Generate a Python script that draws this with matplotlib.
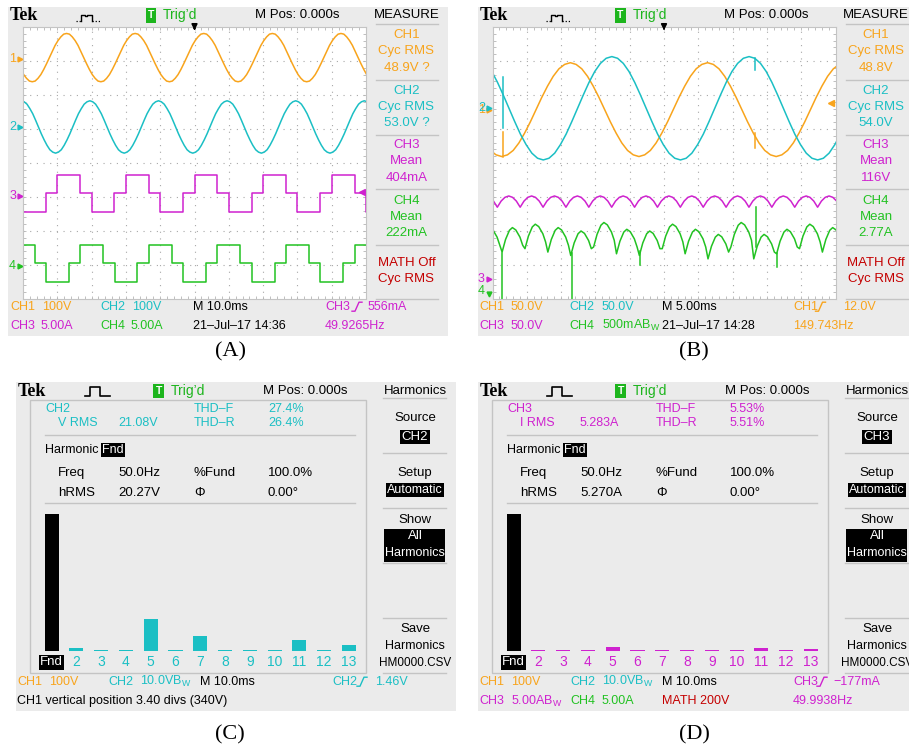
import numpy as np
import matplotlib.pyplot as plt
from matplotlib.patches import Rectangle

W, H = 909, 750
plt.rcParams['font.family'] = ['Liberation Sans', 'DejaVu Sans']

ORANGE = '#F8A41C'
CYAN = '#1BBFC4'
MAGENTA = '#CF22CF'
GREEN = '#22C222'
RED = '#C40000'
TRIG = '#1DB51D'
PANEL = '#EBEBEB'
RULE = '#C4C4C4'

# ---- (A) 10 ms/div; trace values in divisions, one 20 ms period each ----
A_PERIOD = 2.0
A_CH1_CYCLE = [3.81, 3.79, 3.71, 3.60, 3.46, 3.28, 3.10, 2.92, 2.75, 2.60, 2.49, 2.41,
               2.39, 2.41, 2.49, 2.60, 2.75, 2.92, 3.10, 3.28, 3.46, 3.60, 3.71, 3.79]
A_CH1_START = -0.73
A_CH2_CYCLE = [1.83, 1.80, 1.73, 1.60, 1.45, 1.26, 1.06, 0.86, 0.68, 0.52, 0.39, 0.32,
               0.29, 0.32, 0.39, 0.52, 0.68, 0.86, 1.06, 1.26, 1.45, 1.60, 1.73, 1.80]
A_CH2_START = -0.05
A_CH3_STEPS = [-0.35, -0.35, -0.89, -1.43, -1.43, -0.89]
A_CH3_START = -1.00
A_CH4_STEPS = [-2.41, -2.41, -2.95, -3.49, -3.49, -2.95]
A_CH4_START = -0.33

# ---- (B) 5 ms/div ----
B_PERIOD = 4.0
B_CH1_CYCLE = [2.95, 2.90, 2.77, 2.55, 2.26, 1.93, 1.57, 1.21, 0.88, 0.59, 0.37, 0.24,
               0.19, 0.24, 0.37, 0.59, 0.88, 1.21, 1.57, 1.93, 2.26, 2.55, 2.77, 2.90]
B_CH1_START = -1.73
B_CH2_CYCLE = [3.13, 3.08, 2.93, 2.69, 2.37, 2.00, 1.61, 1.22, 0.85, 0.54, 0.29, 0.14,
               0.09, 0.14, 0.29, 0.54, 0.85, 1.22, 1.61, 2.00, 2.37, 2.69, 2.93, 3.08]
B_CH2_START = -0.52
B_RIPPLE = 0.667
B_CH3_FRAC = [0, 0.167, 0.333, 0.5, 0.667, 0.833]
B_CH3_VALS = [-1.30, -1.12, -1.01, -0.97, -1.01, -1.12]
B_CH3_START = -0.527
B_CH4_FRAC = [0, 0.15, 0.32, 0.45, 0.60, 0.78, 0.90]
B_CH4_VALS = [-2.62, -2.25, -1.98, -1.90, -1.97, -2.18, -2.42]
B_CH4_SHIFT = [0, 0, 0.1, 0, -0.1, 0.15, -0.05, -0.1, 0.1, -0.05,
               -0.2, 0.15, -0.2, -0.05, 0.1, 0, 0, 0]
B_CH4_START = -0.387
# glitches: time, from, to, channel colour
B_SPIKES_X = [0.30, 0.30, 0.28, 2.32, 4.30, 8.29, 7.67, 7.65, 7.65]
B_SPIKES_Y0 = [1.02, 0.19, -2.65, -2.65, -2.60, -2.65, -2.46, 2.74, 0.44]
B_SPIKES_Y1 = [2.54, 0.92, -4.00, -4.00, -3.00, -3.05, -1.29, 3.10, 0.88]
B_SPIKES_C = [CYAN, ORANGE, GREEN, GREEN, GREEN, GREEN, GREEN, CYAN, ORANGE]

# ---- (C)/(D) harmonic bars, % of fundamental ----
HARM_LABELS = ['Fnd'] + [str(n) for n in range(2, 14)]
C_HARM = [100, 2.0, 0.8, 0.8, 23.5, 0.8, 10.5, 0.8, 0.8, 0.8, 8.0, 0.8, 4.0]
D_HARM = [100, 0.8, 0.8, 0.8, 3.0, 0.8, 0.8, 0.8, 0.8, 0.8, 1.8, 0.8, 1.6]

fig = plt.figure(figsize=(W / 100, H / 100), dpi=100)
bg = fig.add_axes([0, 0, 1, 1])
bg.set_xlim(0, W)
bg.set_ylim(H, 0)
bg.axis('off')


def px_axes(x0, y0, x1, y1):
    return fig.add_axes([x0 / W, 1 - y1 / H, (x1 - x0) / W, (y1 - y0) / H])


def txt(x, y, s, color='black', size=9, ha='left', **kw):
    bg.text(x, y, s, color=color, fontsize=size, ha=ha, va='center', **kw)


def boxed(x, y, s, size=9, ha='center'):
    bg.text(x, y, s, color='white', fontsize=size, ha=ha, va='center',
            bbox=dict(boxstyle='square,pad=0.1', fc='black', ec='none'))


def header(ox, y, pulse_x, trig_x, mpos_x, menu_x, menu_title, solid_pulse):
    bg.text(ox, y, 'Tek', fontsize=13, fontweight='bold', family='Liberation Serif',
            va='center')
    px = pulse_x
    if solid_pulse:
        bg.plot([px, px + 5, px + 5, px + 15, px + 15, px + 25],
                [y + 5, y + 5, y - 4, y - 4, y + 5, y + 5], color='black', lw=1.2)
    else:
        bg.plot([px - 4, px + 1], [y + 5, y + 5], color='black', lw=0.9, ls=(0, (1, 1.5)))
        bg.plot([px + 1, px + 1, px + 5, px + 5, px + 7, px + 7, px + 12, px + 12],
                [y + 5, y - 1, y - 1, y + 0.5, y + 0.5, y - 1, y - 1, y + 5],
                color='black', lw=1.0)
        bg.plot([px + 12, px + 21], [y + 5, y + 5], color='black', lw=0.9, ls=(0, (1, 1.5)))
    bg.text(trig_x, y, 'T', color='white', fontsize=7.5, ha='center', va='center',
            fontweight='bold', bbox=dict(boxstyle='square,pad=0.22', fc=TRIG, ec='none'))
    txt(trig_x + 12, y, 'Trig\u2019d', color=TRIG, size=10)
    txt(mpos_x, y, 'M Pos: 0.000s', size=9.5)
    txt(menu_x, y, menu_title, size=9.5, ha='center')


def slope(x, y, color):
    bg.plot([x, x + 3, x + 7, x + 10], [y + 4.5, y + 4.5, y - 4.5, y - 4.5], color=color, lw=1)


def menu_lines(x0, x1, ys):
    for y in ys:
        bg.plot([x0, x1], [y, y], color=RULE, lw=1)


def tiled(cycle, period, start, frac=None, shift=None):
    cycle = np.asarray(cycle, float)
    frac = np.arange(len(cycle)) / len(cycle) if frac is None else np.asarray(frac)
    reps = int(np.ceil((10.5 - start) / period))
    x = (start + period * (np.arange(reps)[:, None] + frac[None, :])).ravel()
    y = np.tile(cycle, reps)
    if shift is not None:
        y = y + np.repeat(np.asarray(shift[:reps], float), len(cycle))
    return x, y


def graticule(x0, x1):
    ax = px_axes(x0, 27, x1, 299)
    ax.set_xlim(0, 10)
    ax.set_ylim(-4, 4)
    ax.set_facecolor('white')
    for sp in ax.spines.values():
        sp.set_color(RULE)
        sp.set_linewidth(0.8)
    ax.set_xticks(np.arange(0, 10.01, 0.2))
    ax.set_yticks(np.arange(-4, 4.01, 0.2))
    ax.tick_params(direction='in', length=2.5, width=0.6, color='#B4B4B4', top=True,
                   right=True, labelbottom=False, labelleft=False)
    for v in range(1, 10):
        ax.axvline(v, color='#A8A8A8', lw=0.8, ls=(0, (1, 5)), zorder=0)
    for h in range(-3, 4):
        ax.axhline(h, color='#A8A8A8', lw=0.8, ls=(0, (1, 5)), zorder=0)
    ax.annotate('', xy=(5, 3.82), xytext=(5, 4.08), annotation_clip=False,
                arrowprops=dict(arrowstyle='-|>', color='black', lw=1.3, mutation_scale=8))
    return ax


def marker(x, y, label, color, arrow='>'):
    txt(x, y, label, color=color, size=9, ha='center')
    bg.plot([x + 7], [y], marker=arrow, color=color, ms=3.5)


def measure_menu(ox, items):
    menu_lines(ox + 376, ox + 438, [24, 80, 135, 189, 245, 299])
    for lines, color, y0 in items:
        for k, s in enumerate(lines):
            txt(ox + 406.5, y0 + k * 16.3, s, color=color, size=9.5, ha='center')


# ---------------- panel backgrounds ----------------
for x0, y0, x1, y1 in [(8, 7, 448, 336), (478, 7, 909, 336),
                       (16, 382, 456, 711), (478, 382, 909, 711)]:
    bg.add_patch(Rectangle((x0, y0), x1 - x0, y1 - y0, fc=PANEL, ec='none', zorder=0))

# ---------------- (A) ----------------
header(10, 15.5, 80, 151, 255, 406.5, 'MEASURE', False)
axA = graticule(23, 366)
axA.plot(*tiled(A_CH1_CYCLE, A_PERIOD, A_CH1_START), color=ORANGE, lw=1.1)
axA.plot(*tiled(A_CH2_CYCLE, A_PERIOD, A_CH2_START), color=CYAN, lw=1.1)
axA.plot(*tiled(A_CH3_STEPS, A_PERIOD, A_CH3_START), color=MAGENTA, lw=1.1,
         drawstyle='steps-post')
axA.plot(*tiled(A_CH4_STEPS, A_PERIOD, A_CH4_START), color=GREEN, lw=1.1,
         drawstyle='steps-post')
axA.plot([9.88], [-0.85], marker='<', color=MAGENTA, ms=5, clip_on=False)
marker(12.5, 59, '1', ORANGE)
marker(12.5, 127, '2', CYAN)
marker(12.5, 196, '3', MAGENTA)
marker(12.5, 266, '4', GREEN)
measure_menu(0, [(['CH1', 'Cyc RMS', '48.9V ?'], ORANGE, 35),
                 (['CH2', 'Cyc RMS', '53.0V ?'], CYAN, 90.5),
                 (['CH3', 'Mean', '404mA'], MAGENTA, 145),
                 (['CH4', 'Mean', '222mA'], GREEN, 200.5),
                 (['MATH Off', 'Cyc RMS'], RED, 263)])
r1, r2 = 306.7, 325.7
txt(10, r1, 'CH1', ORANGE); txt(42, r1, '100V', ORANGE)
txt(100, r1, 'CH2', CYAN); txt(132, r1, '100V', CYAN)
txt(193, r1, 'M 10.0ms')
txt(325, r1, 'CH3', MAGENTA); slope(352, r1, MAGENTA); txt(368, r1, '556mA', MAGENTA)
txt(10, r2, 'CH3', MAGENTA); txt(41, r2, '5.00A', MAGENTA)
txt(100, r2, 'CH4', GREEN); txt(131, r2, '5.00A', GREEN)
txt(193, r2, '21\u2013Jul\u201317 14:36')
txt(325, r2, '49.9265Hz', MAGENTA)

# ---------------- (B) ----------------
ox = 469.5
header(ox + 10, 15.5, ox + 80, ox + 151, ox + 255, ox + 406.5, 'MEASURE', False)
axB = graticule(ox + 23, ox + 366)
axB.plot(*tiled(B_CH1_CYCLE, B_PERIOD, B_CH1_START), color=ORANGE, lw=1.1)
axB.plot(*tiled(B_CH2_CYCLE, B_PERIOD, B_CH2_START), color=CYAN, lw=1.1)
axB.plot(*tiled(B_CH3_VALS, B_RIPPLE, B_CH3_START, frac=B_CH3_FRAC), color=MAGENTA, lw=1.1)
axB.plot(*tiled(B_CH4_VALS, B_RIPPLE, B_CH4_START, frac=B_CH4_FRAC, shift=B_CH4_SHIFT),
         color=GREEN, lw=1.1)
for x, y0, y1, c in zip(B_SPIKES_X, B_SPIKES_Y0, B_SPIKES_Y1, B_SPIKES_C):
    axB.plot([x, x], [y0, y1], color=c, lw=1.1)
axB.plot([9.88], [1.76], marker='<', color=ORANGE, ms=5, clip_on=False)
# CH1 and CH2 ground markers sit on top of each other
marker(ox + 12, 110, '1', ORANGE)
marker(ox + 12, 108, '2', CYAN)
marker(ox + 12, 279, '3', MAGENTA)
txt(ox + 12, 291.5, '4', GREEN, size=9, ha='center')
bg.plot([ox + 19], [294], marker='v', color=GREEN, ms=3.5)
measure_menu(ox, [(['CH1', 'Cyc RMS', '48.8V'], ORANGE, 35),
                  (['CH2', 'Cyc RMS', '54.0V'], CYAN, 90.5),
                  (['CH3', 'Mean', '116V'], MAGENTA, 145),
                  (['CH4', 'Mean', '2.77A'], GREEN, 200.5),
                  (['MATH Off', 'Cyc RMS'], RED, 263)])
txt(ox + 10, r1, 'CH1', ORANGE); txt(ox + 41, r1, '50.0V', ORANGE)
txt(ox + 100, r1, 'CH2', CYAN); txt(ox + 132, r1, '50.0V', CYAN)
txt(ox + 192, r1, 'M 5.00ms')
txt(ox + 324, r1, 'CH1', ORANGE); slope(ox + 346, r1, ORANGE); txt(ox + 374, r1, '12.0V', ORANGE)
txt(ox + 10, r2, 'CH3', MAGENTA); txt(ox + 41, r2, '50.0V', MAGENTA)
txt(ox + 100, r2, 'CH4', GREEN); txt(ox + 132, r2, '500mAB$_\\mathregular{W}$', GREEN)
txt(ox + 192, r2, '21\u2013Jul\u201317 14:28')
txt(ox + 324, r2, '149.743Hz', ORANGE)


# ---------------- (C) / (D) ----------------
def harmonic_panel(ox, color, src, rms_name, rms, thd_f, thd_r, hrms, harm, row1, row2):
    header(ox + 18, 391, ox + 85, ox + 158.7, ox + 263, ox + 415, 'Harmonics', True)
    bg.add_patch(Rectangle((ox + 30, 400), 336, 273, fc='none', ec=RULE, lw=1))
    txt(ox + 45, 409, src, color)
    txt(ox + 58, 423, rms_name, color)
    txt(ox + 118, 423, rms, color)
    txt(ox + 194, 409, 'THD\u2013F', color)
    txt(ox + 194, 423, 'THD\u2013R', color)
    txt(ox + 268, 409, thd_f, color)
    txt(ox + 268, 423, thd_r, color)
    bg.plot([ox + 45, ox + 355], [435, 435], color=RULE, lw=1)
    txt(ox + 45, 450, 'Harmonic', size=9)
    boxed(ox + 102, 450, 'Fnd', size=9, ha='left')
    txt(ox + 58, 473, 'Freq', size=9.5); txt(ox + 118, 473, '50.0Hz', size=9.5)
    txt(ox + 194, 473, '%Fund', size=9.5); txt(ox + 268, 473, '100.0%', size=9.5)
    txt(ox + 58, 493, 'hRMS', size=9.5); txt(ox + 118, 493, hrms, size=9.5)
    txt(ox + 194, 493, '\u03a6', size=9.5); txt(ox + 268, 493, '0.00\u00b0', size=9.5)
    bg.plot([ox + 45, ox + 355], [503, 503], color=RULE, lw=1)

    # bar display: 24.77 px per harmonic, 1.367 px per percent
    ax = px_axes(ox + 36.8, 505, ox + 363.8, 650.7)
    ax.set_xlim(0.4, 13.6)
    ax.set_ylim(0, 106.6)
    ax.axis('off')
    idx = np.arange(1, len(harm) + 1)
    ax.bar(idx, harm, width=0.57, color=['black'] + [color] * (len(harm) - 1))
    for i, lab in zip(idx, HARM_LABELS):
        if lab == 'Fnd':
            ax.text(i, -8.6, lab, color='white', fontsize=9.5, ha='center', va='center',
                    clip_on=False, bbox=dict(boxstyle='square,pad=0.1', fc='black', ec='none'))
        else:
            ax.text(i, -8.6, lab, color=color, fontsize=10, ha='center', va='center',
                    clip_on=False)

    mx = ox + 415
    menu_lines(ox + 383, ox + 446 if ox == 0 else W, [398, 453, 508, 563, 618, 673])
    txt(mx, 418, 'Source', size=9.5, ha='center')
    boxed(mx, 437, src, size=9.5)
    txt(mx, 473, 'Setup', size=9.5, ha='center')
    boxed(mx, 490, 'Automatic', size=9)
    txt(mx, 520, 'Show', size=9.5, ha='center')
    bg.add_patch(Rectangle((ox + 384, 529), 61, 33, fc='black', ec='none'))
    txt(mx, 536, 'All', 'white', size=9.5, ha='center')
    txt(mx, 553, 'Harmonics', 'white', size=9, ha='center')
    txt(mx, 629, 'Save', size=9.5, ha='center')
    txt(mx, 646, 'Harmonics', size=9, ha='center')
    txt(mx, 663, 'HM0000.CSV', size=8.5, ha='center')

    for y, items in ((681.7, row1), (701, row2)):
        for x, s, c in items:
            if s == 'SLOPE':
                slope(ox + x, y, c)
            else:
                txt(ox + x, y, s, c)


BW = 'B$_\\mathregular{W}$'
harmonic_panel(0, CYAN, 'CH2', 'V RMS', '21.08V', '27.4%', '26.4%', '20.27V', C_HARM,
               [(17, 'CH1', ORANGE), (49, '100V', ORANGE), (108, 'CH2', CYAN),
                (140, '10.0V' + BW, CYAN), (200, 'M 10.0ms', 'black'),
                (332, 'CH2', CYAN), (357, 'SLOPE', CYAN), (375, '1.46V', CYAN)],
               [(17, 'CH1 vertical position 3.40 divs (340V)', 'black')])
harmonic_panel(462, MAGENTA, 'CH3', 'I RMS', '5.283A', '5.53%', '5.51%', '5.270A', D_HARM,
               [(17, 'CH1', ORANGE), (49, '100V', ORANGE), (108, 'CH2', CYAN),
                (140, '10.0V' + BW, CYAN), (200, 'M 10.0ms', 'black'),
                (331, 'CH3', MAGENTA), (355, 'SLOPE', MAGENTA), (371, '\u2212177mA', MAGENTA)],
               [(17, 'CH3', MAGENTA), (49, '5.00A' + BW, MAGENTA), (108, 'CH4', GREEN),
                (140, '5.00A', GREEN), (200, 'MATH 200V', RED), (331, '49.9938Hz', MAGENTA)])

# ---------------- captions ----------------
for x, y, s in [(230, 352, '(A)'), (694, 352, '(B)'), (230, 735, '(C)'), (694, 735, '(D)')]:
    bg.text(x, y, s, fontsize=16, family='Liberation Serif', ha='center', va='center')

fig.savefig('out.png', dpi=100)
